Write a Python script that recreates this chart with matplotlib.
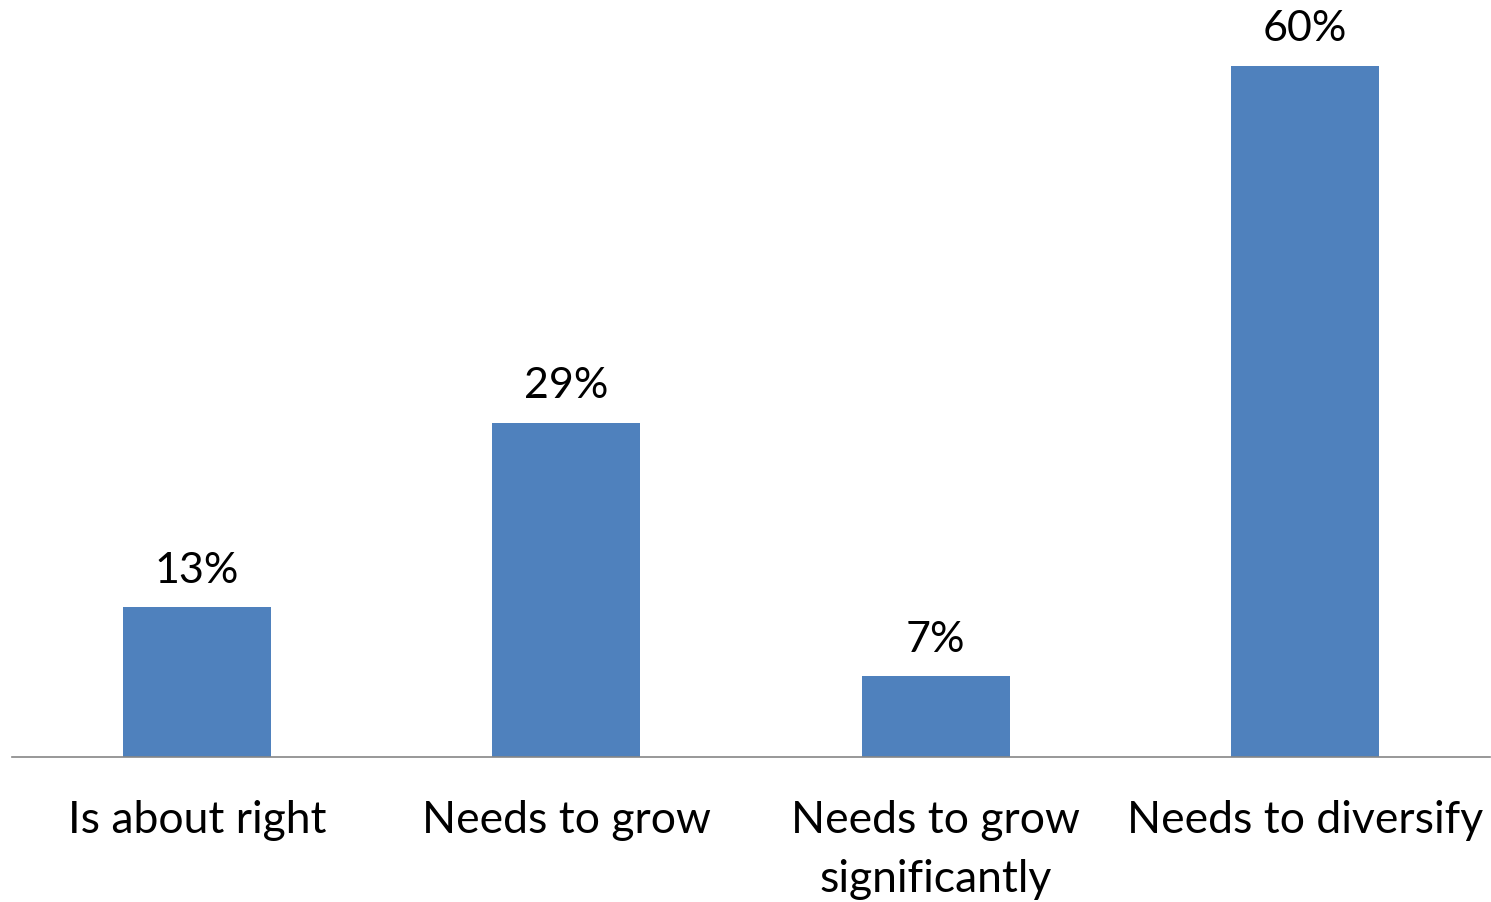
import matplotlib.pyplot as plt

categories = ["Is about right", "Needs to grow", "Needs to grow\nsignificantly", "Needs to diversify"]
values = [13, 29, 7, 60]
value_labels = ["13%", "29%", "7%", "60%"]

plt.rcParams['font.family'] = ['Lato', 'DejaVu Sans']

fig = plt.figure(figsize=(14.91, 9.02), dpi=100)
ax = fig.add_axes([12 / 1491, (902 - 757) / 902, 1478 / 1491, 757 / 902])

x = range(len(categories))
bars = ax.bar(x, values, width=0.4, color="#4F81BD")

# percentage labels above each bar
for bar, lab in zip(bars, value_labels):
    ax.annotate(lab, (bar.get_x() + bar.get_width() / 2, bar.get_height()),
                xytext=(0, 12.5), textcoords="offset points",
                ha="center", va="bottom", fontsize=31)

ax.set_xlim(-0.5, 3.5)
ax.set_ylim(0, 65.7)
ax.set_xticks(list(x))
ax.set_xticklabels(categories, fontsize=32, linespacing=1.53)
ax.tick_params(axis="x", length=0, pad=31)
ax.set_yticks([])

for side in ["top", "right", "left"]:
    ax.spines[side].set_visible(False)
ax.spines["bottom"].set_color("#868686")
ax.spines["bottom"].set_linewidth(1.2)

fig.savefig("out.png", dpi=100)
